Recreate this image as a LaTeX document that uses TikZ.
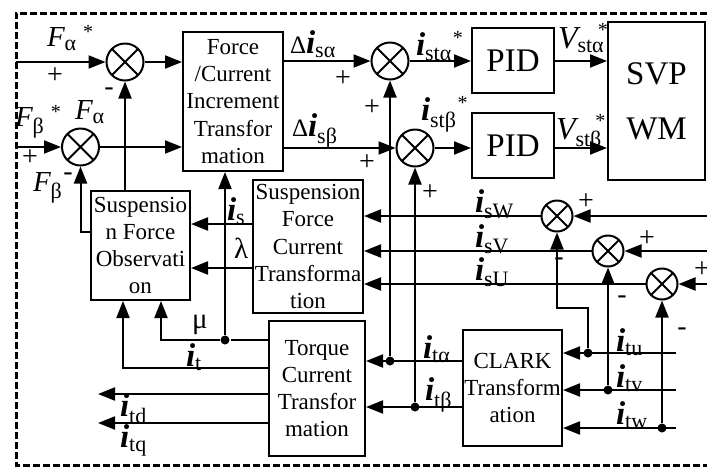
\documentclass[tikz,border=0pt]{standalone}
\usepackage{fontspec}
\setmainfont{Liberation Serif}
\usetikzlibrary{arrows.meta}
\newcommand{\forcesym}[2]{{\fontsize{14.5}{14.5}\selectfont\itshape F}\textsubscript{\fontsize{11}{11}\selectfont #1}#2}
\newcommand{\cursym}[2]{{\fontsize{16.5}{16.5}\selectfont\bfseries\itshape i}\textsubscript{\fontsize{11}{11}\selectfont #1}#2}
\newcommand{\voltsym}[2]{{\fontsize{16}{16}\selectfont\itshape V}\textsubscript{\fontsize{11}{11}\selectfont #1}#2}
\newcommand{\upstar}{\hspace{3pt}\raisebox{4pt}{\fontsize{10}{10}\selectfont *}}
\newcommand{\overstar}{\hspace{0.3pt}\raisebox{5.5pt}{\fontsize{10}{10}\selectfont *}}
\newcommand{\vstar}{\hspace{-3.5pt}\raisebox{6pt}{\fontsize{10}{10}\selectfont *}}

\begin{document}
\begin{tikzpicture}[x=0.5pt,y=-0.5pt,line width=1pt,>={Triangle[length=8.5pt,width=6.5pt]},
    blk/.style={draw, align=center, inner sep=0pt, font=\fontsize{11.5}{13.6}\selectfont},
    bigtxt/.style={font=\fontsize{16.5}{27.5}\selectfont},
    sumjn/.style={draw, circle, inner sep=0pt, minimum size=18.5pt,
        path picture={\draw (path picture bounding box.north west) -- (path picture bounding box.south east)
            (path picture bounding box.north east) -- (path picture bounding box.south west);}},
    sumjs/.style={sumjn, minimum size=15.5pt},
    jdot/.style={circle, fill, inner sep=0pt, minimum size=4.5pt},
    sgn/.style={inner sep=0pt, font=\fontsize{14}{14}\selectfont},
    lbl/.style={inner sep=0pt, anchor=west, font=\fontsize{12.5}{12.5}\selectfont},
    grk/.style={lbl, font=\fontsize{14.5}{14.5}\selectfont}]
    \useasboundingbox (0,0) rectangle (707,468);
    \draw[line width=1.5pt, dash pattern=on 3.3pt off 1.7pt] (707,13) -| (16,465) -- (707,465);

    % blocks
    \node[blk, minimum width=50pt, minimum height=69.5pt] (FCIT) at (233,101.5) {Force\\/Current\\Increment\\Transfor\\mation};
    \node[blk, minimum width=49.5pt, minimum height=54.5pt] (SFO) at (140.5,245.5) {Suspensio\\n Force\\Observati\\on};
    \node[blk, minimum width=55pt, minimum height=66.5pt] (SFCT) at (308,246.5) {Suspension\\Force\\Current\\Transforma\\tion};
    \node[blk, minimum width=48pt, minimum height=67.5pt] (TCT) at (317,388.5) {Torque\\Current\\Transfor\\mation};
    \node[blk, minimum width=49.5pt, minimum height=58pt] (CLARK) at (512.5,388) {CLARK\\Transform\\ation};
    \node[blk, bigtxt, minimum width=41pt, minimum height=32.5pt] (PIDa) at (513,60.5) {PID};
    \node[blk, bigtxt, minimum width=41pt, minimum height=32.5pt] (PIDb) at (513,145.5) {PID};
    \node[blk, bigtxt, minimum width=48.5pt, minimum height=79pt] (SVPWM) at (656.5,101) {SVP\\WM};

    % force loop
    \coordinate (inFa) at (16,62);
    \coordinate (inFb) at (16,147);
    \node[sumjn] (S1) at (125,62) {};
    \node[sumjn] (S2) at (80.5,147) {};
    \draw[->] (inFa) -- (S1);
    \draw[->] (inFb) -- (S2);
    \draw[->] (S1) -- (S1 -| FCIT.west);
    \draw[->] (S2) -- (S2 -| FCIT.west);
    \draw[->] (SFO.north -| S1) -- (S1);
    \draw[->] (SFO.west |- 0,232) -| (S2);

    % current references
    \node[sumjn] (S3) at (390,61) {};
    \node[sumjn] (S4) at (415,148) {};
    \draw[->] (S3 -| FCIT.east) -- (S3);
    \draw[->] (S4 -| FCIT.east) -- (S4);
    \draw[->] (S3) -- (S3 -| PIDa.west);
    \draw[->] (S4) -- (S4 -| PIDb.west);
    \draw[->] (PIDa.east |- S3) -- (SVPWM.west |- S3);
    \draw[->] (PIDb.east |- S4) -- (SVPWM.west |- S4);

    \draw[->] (SFCT.west |- 0,224) -- (SFO.east |- 0,224);
    \draw[->] (SFCT.west |- 0,268) -- (SFO.east |- 0,268);

    % suspension currents
    \foreach \nm/\x/\y in {W/557/216, V/608/251, U/662/284}{
        \node[sumjs] (C\nm) at (\x,\y) {};
        \coordinate (in\nm) at (707,\y);
        \draw[->] (in\nm) -- (C\nm);
        \draw[->] (C\nm) -- (C\nm -| SFCT.east);
    }

    % torque currents
    \foreach \nm/\y in {u/353, v/390, w/428}{
        \coordinate (it\nm) at (676,\y);
        \draw[->] (it\nm) -- (it\nm -| CLARK.east);
    }
    \node[jdot] (ju) at (588,353) {};
    \node[jdot] (jv) at (608,390) {};
    \node[jdot] (jw) at (662,428) {};
    \draw[->] (ju) |- (CW |- 0,308) -- (CW);
    \draw[->] (jv) -- (CV);
    \draw[->] (jw) -- (CU);

    \node[jdot] (ja) at (390,361) {};
    \node[jdot] (jb) at (415,407) {};
    \draw[->] (CLARK.west |- ja) -- (TCT.east |- ja);
    \draw[->] (CLARK.west |- jb) -- (TCT.east |- jb);
    \draw[->] (ja) -- (S3);
    \draw[->] (jb) -- (S4);

    \node[jdot] (jm) at (225,340) {};
    \draw (TCT.west |- jm) -- (jm);
    \draw[->] (jm) -- (jm |- FCIT.south);
    \draw[->] (jm) -| (SFO.south -| 161,0);
    \draw[->] (TCT.west |- 0,368) -| (SFO.south -| 123,0);
    \coordinate (otd) at (98,394);
    \coordinate (otq) at (98,423);
    \draw[->] (TCT.west |- otd) -- (otd);
    \draw[->] (TCT.west |- otq) -- (otq);

    % labels
    \node[lbl] (lFas) at (46,38) {\forcesym{α}{\upstar}};
    \node[lbl] (lFbs) at (14,122) {\forcesym{β}{\upstar}};
    \node[lbl] (lFa) at (74,112) {\forcesym{α}{}};
    \node[lbl] (lFb) at (32,188) {\forcesym{β}{}};
    \node[lbl] (ldia) at (289,44) {Δ\cursym{sα}{}};
    \node[lbl] (ldib) at (291,131) {Δ\cursym{sβ}{}};
    \node[lbl] (lista) at (415,46) {\cursym{stα}{\overstar}};
    \node[lbl] (listb) at (420,114) {\cursym{stβ}{\overstar}};
    \node[lbl] (lvsta) at (557,38) {\voltsym{stα}{\vstar}};
    \node[lbl] (lvstb) at (555,133) {\voltsym{stβ}{\vstar}};
    \node[lbl] (lis) at (226,211) {\cursym{s}{}};
    \node[grk] (llam) at (233,248) {λ};
    \node[grk] (lmu) at (191,325) {μ};
    \node[lbl] (lit) at (185,357) {\cursym{t}{}};
    \node[lbl] (litd) at (119,409) {\cursym{td}{}};
    \node[lbl] (litq) at (119,440) {\cursym{tq}{}};
    \node[lbl] (lita) at (422,349) {\cursym{tα}{}};
    \node[lbl] (litb) at (424,395) {\cursym{tβ}{}};
    \foreach \nm/\y in {W/204, V/239, U/272}{
        \node[lbl] (lis\nm) at (474,\y) {\cursym{s\nm}{}};
    }
    \foreach \nm/\y in {u/342, v/378, w/415}{
        \node[lbl] (lit\nm) at (615,\y) {\cursym{t\nm}{}};
    }
    \foreach \n/\x/\y/\s in {a/55/76/+, b/109/92/-, c/30/158/+, d/68/177/-,
            e/343/79/+, f/372/108/+, g/367/163/+, h/430/193/+,
            i/586/202/+, j/647/239/+, k/702/270/+,
            l/559/262/-, m/622/300/-, n/682/332/-}{
        \node[sgn] (sg\n) at (\x,\y) {\s};
    }
\end{tikzpicture}
\end{document}
